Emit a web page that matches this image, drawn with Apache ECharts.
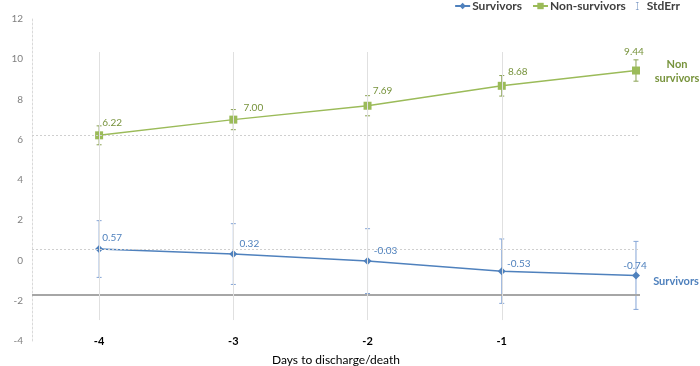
<!DOCTYPE html>
<html>
<head>
<meta charset="utf-8">
<script src="https://cdn.jsdelivr.net/npm/echarts@6/dist/echarts.min.js"></script>
<style>
  html, body { margin: 0; padding: 0; background: #fff; }
  #chart { width: 700px; height: 366px; }
</style>
</head>
<body>
<div id="chart"></div>
<script>
const days = [-4, -3, -2, -1, 0];
const dayLabels = {'-4': '-4', '-3': '-3', '-2': '-2', '-1': '-1'};
const survivors = [0.57, 0.32, -0.03, -0.53, -0.74];
const survivorsErr = [1.41, 1.51, 1.61, 1.60, 1.69];
const nonSurvivors = [6.22, 7.00, 7.69, 8.68, 9.44];
const nonSurvivorsErr = [0.47, 0.50, 0.50, 0.51, 0.53];
const baseLine = -1.68;
const dropTop = 10.36;
const dropBottom = -2.96;

const BLUE = '#4f81bd';
const GREEN = '#9bbb59';
const OLIVE = '#77933c';
const FONT = 'Lato';

// label nudges per point (style, kept apart from the data)
const greenOffsets = [[13, 1], [20, 2], [15, -1], [16, 0], [-2, -5]];
const blueOffsets = [[13, 3], [16, 4], [18, 4], [17, 7], [-1, 4]];

function points(values, offsets) {
  return values.map((v, i) => ({value: [days[i], v], label: {offset: offsets[i]}}));
}

function errorBars(values, errs, color) {
  return {
    type: 'custom',
    name: 'StdErr',
    z: 2,
    silent: true,
    data: days.map((d, i) => [d, values[i] - errs[i], values[i] + errs[i]]),
    encode: {x: 0, y: [1, 2]},
    renderItem(params, api) {
      const lo = api.coord([api.value(0), api.value(1)]);
      const hi = api.coord([api.value(0), api.value(2)]);
      const w = 2.5;
      const style = {stroke: color, lineWidth: 1};
      return {
        type: 'group',
        children: [
          {type: 'line', shape: {x1: hi[0], y1: hi[1], x2: lo[0], y2: lo[1]}, style},
          {type: 'line', shape: {x1: hi[0] - w, y1: hi[1], x2: hi[0] + w, y2: hi[1]}, style},
          {type: 'line', shape: {x1: lo[0] - w, y1: lo[1], x2: lo[0] + w, y2: lo[1]}, style}
        ]
      };
    }
  };
}

const chart = echarts.init(document.getElementById('chart'));

chart.setOption({
  animation: false,
  textStyle: {fontFamily: FONT},
  grid: {left: 32, right: 60, top: 19, bottom: 25, containLabel: false, outerBoundsMode: 'none'},
  legend: {
    top: 0,
    right: 20,
    padding: [0, 0],
    itemWidth: 15,
    itemHeight: 8,
    itemGap: 10,
    textStyle: {fontFamily: FONT, fontWeight: 'bold', fontSize: 12, color: '#404040', padding: [0, 0, 0, -3]},
    data: [
      {name: 'Survivors'},
      {name: 'Non-survivors'},
      {name: 'StdErr', icon: 'path://M0,0H7V1.2H4.1V18.8H7V20H0V18.8H2.9V1.2H0Z',
        itemStyle: {color: '#5a7fb5'}}
    ]
  },
  xAxis: {
    type: 'value',
    min: -4.5,
    max: 0.03,
    interval: 0.5,
    offset: -13,
    axisLine: {show: false, onZero: false},
    axisTick: {show: false},
    splitLine: {show: false},
    axisLabel: {
      fontFamily: FONT, fontSize: 11, fontWeight: 'bold', color: '#000',
      formatter: v => dayLabels[String(v)] || ''
    },
    name: 'Days to discharge/death',
    nameLocation: 'middle',
    nameGap: 26,
    nameTextStyle: {fontFamily: FONT, fontSize: 12, color: '#000'}
  },
  yAxis: {
    type: 'value',
    min: -4,
    max: 12,
    interval: 2,
    axisLine: {show: true, onZero: false, lineStyle: {color: '#d9d9d9', type: [2, 2]}},
    axisTick: {show: false},
    splitLine: {show: false},
    axisLabel: {fontFamily: FONT, fontSize: 10, color: '#808080', margin: 9},
    name: 'FO (%)',
    nameLocation: 'middle',
    nameGap: 22,
    nameTextStyle: {fontFamily: FONT, fontSize: 12, color: '#262626'}
  },
  graphic: [
    {type: 'text', x: 677, y: 71, style: {text: 'Non\nsurvivors', align: 'center', verticalAlign: 'middle',
      font: 'bold 11px Lato', fill: OLIVE, lineHeight: 14}},
    {type: 'text', x: 676, y: 281, style: {text: 'Survivors', align: 'center', verticalAlign: 'middle',
      font: 'bold 11px Lato', fill: BLUE}}
  ],
  series: [
    {
      type: 'line',
      name: 'ref',
      data: [],
      z: 1,
      silent: true,
      markLine: {
        silent: true,
        symbol: 'none',
        label: {show: false},
        data: [
          {yAxis: nonSurvivors[0], lineStyle: {color: '#cfcfcf', type: [2, 2], width: 1}},
          {yAxis: survivors[0], lineStyle: {color: '#cfcfcf', type: [2, 2], width: 1}},
          {yAxis: baseLine, lineStyle: {color: '#a6a6a6', type: 'solid', width: 2}},
          ...days.slice(0, 4).map(d => [
            {coord: [d, dropTop], lineStyle: {color: '#e0e0e0', type: 'solid', width: 1}},
            {coord: [d, dropBottom]}
          ])
        ]
      }
    },
    errorBars(nonSurvivors, nonSurvivorsErr, '#8aa253'),
    errorBars(survivors, survivorsErr, '#85a5d6'),
    {
      type: 'line',
      name: 'Non-survivors',
      z: 3,
      data: points(nonSurvivors, greenOffsets),
      symbol: 'rect',
      symbolSize: 8,
      lineStyle: {color: GREEN, width: 1.5},
      itemStyle: {color: GREEN},
      label: {
        show: true, position: 'top', fontFamily: FONT, fontSize: 10, color: OLIVE,
        formatter: p => p.value[1].toFixed(2)
      }
    },
    {
      type: 'line',
      name: 'Survivors',
      z: 3,
      data: points(survivors, blueOffsets),
      symbol: 'diamond',
      symbolSize: 8,
      lineStyle: {color: BLUE, width: 1.5},
      itemStyle: {color: BLUE},
      label: {
        show: true, position: 'top', fontFamily: FONT, fontSize: 10, color: BLUE,
        formatter: p => p.value[1].toFixed(2)
      }
    }
  ]
});
</script>
</body>
</html>
